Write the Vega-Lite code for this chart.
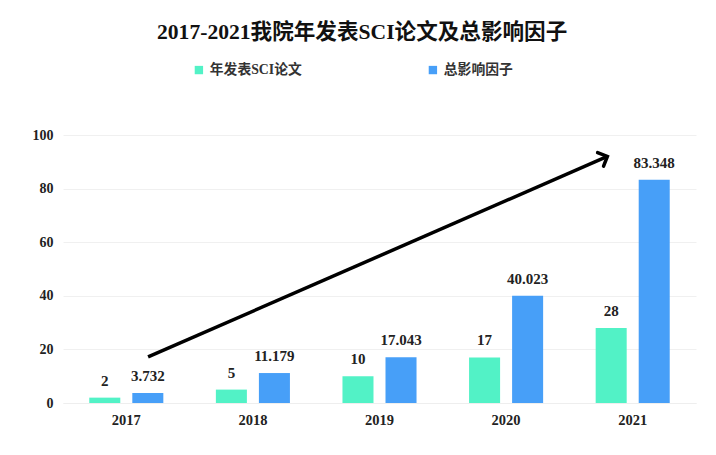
{
  "$schema": "https://vega.github.io/schema/vega-lite/v6.json",
  "autosize": "none",
  "width": 633,
  "height": 268,
  "padding": {"left": 63, "top": 135, "right": 20, "bottom": 52},
  "background": "white",
  "config": {
    "font": "Liberation Serif, Noto Sans CJK SC",
    "view": {"stroke": null}
  },
  "title": {
    "text": "2017-2021我院年发表SCI论文及总影响因子",
    "font": "Liberation Serif, Noto Sans CJK SC",
    "fontSize": 21.6,
    "fontWeight": "bold",
    "color": "#111111",
    "anchor": "start",
    "dx": 125,
    "dy": -19,
    "offset": 0
  },
  "datasets": {
    "bars": [
      {"year": "2017", "series": "年发表SCI论文", "value": 2, "label": "2"},
      {"year": "2017", "series": "总影响因子", "value": 3.732, "label": "3.732"},
      {"year": "2018", "series": "年发表SCI论文", "value": 5, "label": "5"},
      {"year": "2018", "series": "总影响因子", "value": 11.179, "label": "11.179"},
      {"year": "2019", "series": "年发表SCI论文", "value": 10, "label": "10"},
      {"year": "2019", "series": "总影响因子", "value": 17.043, "label": "17.043"},
      {"year": "2020", "series": "年发表SCI论文", "value": 17, "label": "17"},
      {"year": "2020", "series": "总影响因子", "value": 40.023, "label": "40.023"},
      {"year": "2021", "series": "年发表SCI论文", "value": 28, "label": "28"},
      {"year": "2021", "series": "总影响因子", "value": 83.348, "label": "83.348"}
    ],
    "arrow": [
      {"x1": 0.672, "y1": 17.2, "x2": 4.3, "y2": 92}
    ]
  },
  "layer": [
    {
      "data": {"name": "bars"},
      "encoding": {
        "x": {
          "field": "year", "type": "nominal", "sort": null,
          "scale": {"paddingInner": 0.415, "paddingOuter": 0.2075},
          "axis": {
            "title": null, "labelAngle": 0, "ticks": false,
            "domain": true, "domainColor": "#eeeeee",
            "labelFont": "Liberation Serif", "labelFontSize": 14.5,
            "labelFontWeight": "bold", "labelColor": "#222222",
            "labelPadding": 10
          }
        },
        "xOffset": {
          "field": "series", "type": "nominal", "sort": ["年发表SCI论文", "总影响因子"],
          "scale": {"paddingInner": 0.279, "paddingOuter": 0}
        },
        "y": {
          "field": "value", "type": "quantitative",
          "scale": {"domain": [0, 100]},
          "axis": {
            "title": null, "values": [0, 20, 40, 60, 80, 100],
            "ticks": false, "domain": false,
            "grid": true, "gridColor": "#f0f0f0", "gridWidth": 1,
            "labelFont": "Liberation Serif", "labelFontSize": 14,
            "labelFontWeight": "bold", "labelColor": "#222222",
            "labelPadding": 10
          }
        }
      },
      "layer": [
        {
          "mark": {"type": "bar"},
          "encoding": {
            "color": {
              "field": "series", "type": "nominal",
              "sort": ["年发表SCI论文", "总影响因子"],
              "scale": {"domain": ["年发表SCI论文", "总影响因子"], "range": ["#52F2C6", "#479FF8"]},
              "legend": {
                "title": null, "orient": "none", "direction": "horizontal",
                "legendX": 129, "legendY": -72,
                "symbolType": "square", "symbolSize": 70, "symbolStrokeWidth": 0,
                "labelFont": "Liberation Serif, Noto Sans CJK SC",
                "labelFontSize": 13.8, "labelFontWeight": "bold",
                "labelColor": "#333333", "labelOffset": 4,
                "columnPadding": 124
              }
            }
          }
        },
        {
          "mark": {
            "type": "text", "baseline": "bottom", "dy": -9,
            "font": "Liberation Serif", "fontSize": 15, "fontWeight": "bold",
            "color": "#222222"
          },
          "encoding": {
            "text": {"field": "label", "type": "nominal"}
          }
        }
      ]
    },
    {
      "data": {"name": "arrow"},
      "encoding": {
        "x": {"field": "x1", "type": "quantitative", "scale": {"domain": [0, 5], "nice": false, "zero": false}, "axis": null},
        "y": {"field": "y1", "type": "quantitative", "axis": null}
      },
      "layer": [
        {
          "mark": {"type": "rule", "color": "#000000", "strokeWidth": 3.5},
          "encoding": {
            "x2": {"field": "x2"},
            "y2": {"field": "y2"}
          }
        },
        {
          "mark": {
            "type": "point", "shape": "M-1,-1L0,0L-1,1", "filled": false,
            "stroke": "#000000", "strokeWidth": 3.5, "size": 220,
            "angle": 336.3, "opacity": 1, "strokeCap": "round", "strokeJoin": "miter"
          },
          "encoding": {
            "x": {"field": "x2", "type": "quantitative"},
            "y": {"field": "y2", "type": "quantitative"}
          }
        }
      ]
    }
  ],
  "resolve": {"scale": {"x": "independent"}, "axis": {"x": "independent", "y": "independent"}}
}
